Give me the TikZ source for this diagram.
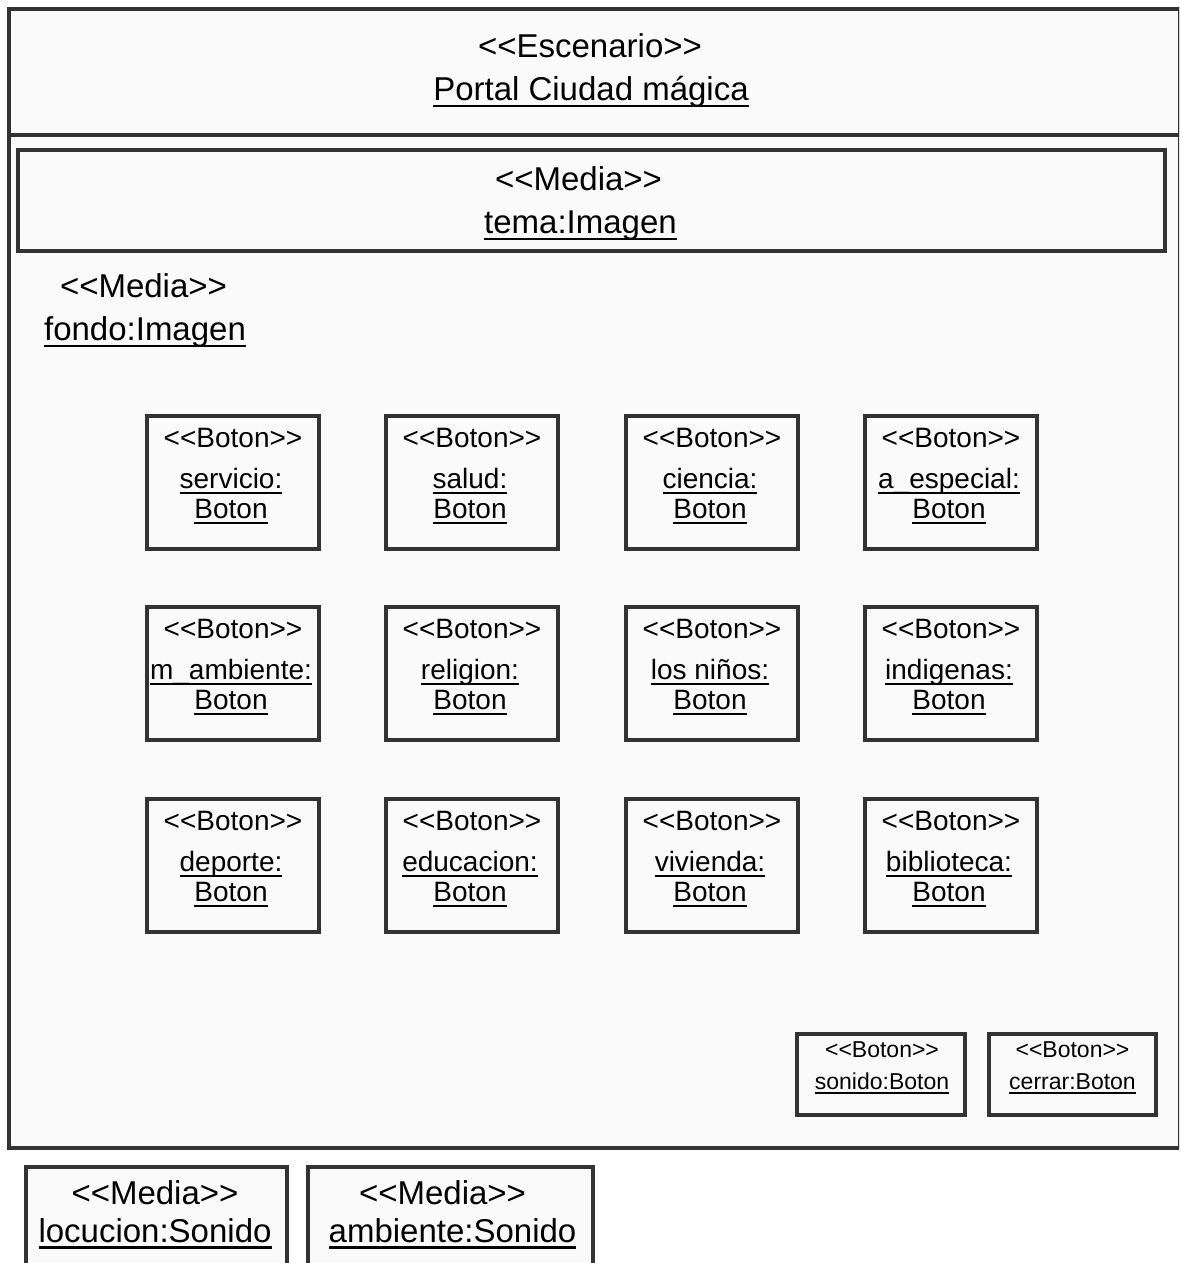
\documentclass[tikz,border=0pt]{standalone}
\usepackage{fontspec}
\setmainfont{Liberation Sans}
\usetikzlibrary{calc}
\definecolor{ink}{HTML}{333333}
\definecolor{paper}{HTML}{FAFAFA}
% underline at a fixed depth below the baseline
\newcommand\ulx[2][0.22em]{\setbox0=\hbox{#2}\rlap{\rule[-#1]{\wd0}{0.07em}}\box0}
% stereotype guillemets typed as two angle brackets
\newcommand\stereo[1]{<{}<#1>{}>}

\tikzset{
  x=1pt, y=-1pt,
  box/.style={draw=ink, line width=4pt, fill=paper, inner sep=0pt, outer sep=0pt, anchor=north west},
  bigtext/.style={font=\fontsize{33}{40}\selectfont, inner sep=0pt, anchor=base, text=black},
  midtext/.style={font=\fontsize{28}{34}\selectfont, inner sep=0pt, anchor=base, text=black},
  smalltext/.style={font=\fontsize{23}{28}\selectfont, inner sep=0pt, anchor=base, text=black},
}

% one <<Boton>> object box: name, left, top, first name line, second name line
\newcommand\botonbox[5]{%
  \node[box, minimum width=172, minimum height=133] (#1) at (#2,#3) {};
  \node[midtext] (#1-s) at ($(#1.north)+(0,31)$) {\stereo{Boton}};
  \node[midtext] (#1-a) at ($(#1.north)+(-2,72)$) {\ulx{#4}};
  \node[midtext] (#1-b) at ($(#1.north)+(-2,102)$) {\ulx{#5}};
}

\begin{document}
\begin{tikzpicture}
  \useasboundingbox (0,0) rectangle (1179,1263);
  \fill[white] (0,0) rectangle (1179,1263);
  \clip (0,0) rectangle (1179,1263);

  % scenario frame and its title bar
  \node[box, minimum width=1171, minimum height=1138.5] (frame) at (8.5,9.5) {};
  \node[box, minimum width=1171, minimum height=125.5] (header) at (8.5,9.5) {};
  \node[bigtext] (header-s) at ($(header.north)+(-4,47.5)$) {\stereo{Escenario}};
  \node[bigtext] (header-n) at ($(header.north)+(-3,90.5)$) {\ulx[0.21em]{Portal Ciudad mágica}};

  % theme image
  \node[box, minimum width=1147, minimum height=101] (tema) at (18,150) {};
  \node[bigtext] (tema-s) at ($(tema.north)+(-13,40)$) {\stereo{Media}};
  \node[bigtext] (tema-n) at ($(tema.north)+(-11,83)$) {\ulx[0.21em]{tema:Imagen}};

  % background image
  \node[bigtext] (fondo-s) at (143.5,297) {\stereo{Media}};
  \node[bigtext] (fondo-n) at (145,340) {\ulx[0.21em]{fondo:Imagen}};

  % section buttons
  \botonbox{b11}{147}{416}{servicio:}{Boton}
  \botonbox{b12}{386}{416}{salud:}{Boton}
  \botonbox{b13}{626}{416}{ciencia:}{Boton}
  \botonbox{b14}{865}{416}{a\_especial:}{Boton}
  \botonbox{b21}{147}{607}{m\_ambiente:}{Boton}
  \botonbox{b22}{386}{607}{religion:}{Boton}
  \botonbox{b23}{626}{607}{los niños:}{Boton}
  \botonbox{b24}{865}{607}{indigenas:}{Boton}
  \botonbox{b31}{147}{799}{deporte:}{Boton}
  \botonbox{b32}{386}{799}{educacion:}{Boton}
  \botonbox{b33}{626}{799}{vivienda:}{Boton}
  \botonbox{b34}{865}{799}{biblioteca:}{Boton}

  % sound and close buttons
  \node[box, minimum width=168, minimum height=81] (sonido) at (797,1034) {};
  \node[smalltext] (sonido-s) at ($(sonido.north)+(1,23)$) {\stereo{Boton}};
  \node[smalltext] (sonido-n) at ($(sonido.north)+(1,55)$) {\ulx[0.2em]{sonido:Boton}};
  \node[box, minimum width=167, minimum height=81] (cerrar) at (989,1034) {};
  \node[smalltext] (cerrar-s) at ($(cerrar.north)+(0,23)$) {\stereo{Boton}};
  \node[smalltext] (cerrar-n) at ($(cerrar.north)+(0,55)$) {\ulx[0.2em]{cerrar:Boton}};

  % sound media outside the scenario
  \node[box, line width=3.5pt, minimum width=261, minimum height=130] (locucion) at (26,1167) {};
  \node[bigtext] (locucion-s) at ($(locucion.north)+(-1.5,37)$) {\stereo{Media}};
  \node[bigtext] (locucion-n) at ($(locucion.north)+(-1.5,75)$) {\ulx[0.2em]{locucion:Sonido}};
  \node[box, line width=3.5pt, minimum width=285, minimum height=130] (ambiente) at (308,1167) {};
  \node[bigtext] (ambiente-s) at ($(ambiente.north)+(-8,37)$) {\stereo{Media}};
  \node[bigtext] (ambiente-n) at ($(ambiente.north)+(2,75)$) {\ulx[0.2em]{ambiente:Sonido}};
\end{tikzpicture}
\end{document}
